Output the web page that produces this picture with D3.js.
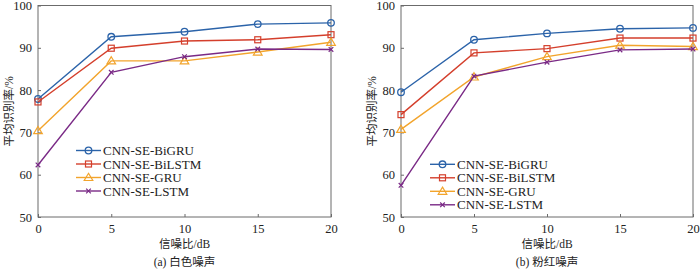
<!DOCTYPE html>
<html>
<head>
<meta charset="utf-8">
<script src="https://cdn.jsdelivr.net/npm/d3@7"></script>
<style>
  body { margin: 0; background: #fff; }
  svg { display: block; }
</style>
</head>
<body>
<div id="chart"></div>
<script>
// SNR levels (dB)
const snr = [0, 5, 10, 15, 20];
const seriesNames = ['CNN-SE-BiGRU', 'CNN-SE-BiLSTM', 'CNN-SE-GRU', 'CNN-SE-LSTM'];

// (a) white noise
const whiteBiGRU  = [77.9, 92.6, 93.8, 95.6, 95.9];
const whiteBiLSTM = [77.2, 89.9, 91.6, 91.9, 93.1];
const whiteGRU    = [70.4, 86.9, 86.9, 89.0, 91.3];
const whiteLSTM   = [62.3, 84.2, 87.9, 89.7, 89.6];

// (b) pink noise
const pinkBiGRU  = [79.5, 91.9, 93.4, 94.5, 94.7];
const pinkBiLSTM = [74.2, 88.8, 89.8, 92.3, 92.3];
const pinkGRU    = [70.7, 83.1, 87.9, 90.6, 90.3];
const pinkLSTM   = [57.5, 83.3, 86.6, 89.5, 89.7];

const xTicks = [0, 5, 10, 15, 20];
const yTicks = [50, 60, 70, 80, 90, 100];

const colors = ['#2b63a9', '#d43f2c', '#f2a42c', '#7a2a86'];
const shapes = ['circle', 'square', 'triangle', 'cross'];

const W = 700, H = 270;
const svg = d3.select('#chart').append('svg').attr('width', W).attr('height', H);

const serif = "'Times New Roman', 'Liberation Serif', 'DejaVu Serif', serif";
const cjk = "'Times New Roman', 'Liberation Serif', 'Noto Sans CJK SC', serif";
const axisColor = '#6b6b6b';

function marker(g, shape, color, cx, cy) {
    if (shape === 'circle') {
        g.append('circle').attr('cx', cx).attr('cy', cy).attr('r', 3.3)
            .attr('fill', 'none').attr('stroke', color).attr('stroke-width', 1.3);
    } else if (shape === 'square') {
        g.append('rect').attr('x', cx - 3).attr('y', cy - 3).attr('width', 6).attr('height', 6)
            .attr('fill', 'none').attr('stroke', color).attr('stroke-width', 1.2);
    } else if (shape === 'triangle') {
        g.append('path').attr('d', `M${cx},${cy - 4.2}L${cx + 4.3},${cy + 3}L${cx - 4.3},${cy + 3}Z`)
            .attr('fill', 'none').attr('stroke', color).attr('stroke-width', 1.2);
    } else {
        g.append('path').attr('d', `M${cx - 2.3},${cy - 2.3}L${cx + 2.3},${cy + 2.3}M${cx - 2.3},${cy + 2.3}L${cx + 2.3},${cy - 2.3}`)
            .attr('stroke', color).attr('stroke-width', 1.2);
    }
}

function panel(opts) {
    const { left, right, data, legendX, legendY, caption } = opts;
    const top = 5.5, bottom = 217;
    const x = d3.scaleLinear().domain([0, 20]).range([left, right]);
    const y = d3.scaleLinear().domain([50, 100]).range([bottom, top]);
    const g = svg.append('g');

    // box
    g.append('rect').attr('x', left).attr('y', top).attr('width', right - left).attr('height', bottom - top)
        .attr('fill', 'none').attr('stroke', axisColor).attr('stroke-width', 1);

    // ticks (inward)
    g.append('g').attr('transform', `translate(0,${bottom})`)
        .call(d3.axisBottom(x).tickValues(xTicks).tickSize(-3).tickPadding(7).tickFormat(d3.format('d')))
        .call(a => a.select('.domain').remove())
        .call(a => a.attr('font-family', null))
        .call(a => a.selectAll('line').attr('stroke', axisColor))
        .call(a => a.selectAll('text').attr('fill', '#222').style('font-family', serif).style('font-size', '12.5px'));
    g.append('g').attr('transform', `translate(${left},0)`)
        .call(d3.axisLeft(y).tickValues(yTicks).tickSize(-3).tickPadding(6))
        .call(a => a.select('.domain').remove())
        .call(a => a.attr('font-family', null))
        .call(a => a.selectAll('line').attr('stroke', axisColor))
        .call(a => a.selectAll('text').attr('fill', '#222').style('font-family', serif).style('font-size', '12.5px'));

    // lines
    const line = d3.line().x((d, i) => x(snr[i])).y(d => y(d));
    data.forEach((vals, k) => {
        g.append('path').datum(vals).attr('d', line)
            .attr('fill', 'none').attr('stroke', colors[k]).attr('stroke-width', 1.4);
        vals.forEach((v, i) => marker(g, shapes[k], colors[k], x(snr[i]), y(v)));
    });

    // legend
    seriesNames.forEach((name, k) => {
        const ly = legendY + k * 13.5;
        g.append('line').attr('x1', legendX).attr('x2', legendX + 25).attr('y1', ly).attr('y2', ly)
            .attr('stroke', colors[k]).attr('stroke-width', 1.4);
        marker(g, shapes[k], colors[k], legendX + 12.5, ly);
        g.append('text').attr('x', legendX + 27).attr('y', ly + 4.5).text(name)
            .attr('fill', '#222').style('font-family', serif).style('font-size', '13px');
    });

    // axis titles
    const cx = (left + right) / 2;
    g.append('text').attr('x', cx).attr('y', 248).attr('text-anchor', 'middle')
        .text('信噪比/dB').attr('fill', '#222').style('font-family', cjk).style('font-size', '11.5px');
    g.append('text').attr('x', cx).attr('y', 266).attr('text-anchor', 'middle')
        .text(caption).attr('fill', '#222').style('font-family', cjk).style('font-size', '11.5px');
    g.append('text').attr('transform', `translate(${left - 25},${(top + bottom) / 2}) rotate(-90)`)
        .attr('text-anchor', 'middle').text('平均识别率/%')
        .attr('fill', '#222').style('font-family', cjk).style('font-size', '11.5px');
}

panel({ left: 38, right: 331, data: [whiteBiGRU, whiteBiLSTM, whiteGRU, whiteLSTM],
        legendX: 76, legendY: 150.5, caption: '(a) 白色噪声' });
panel({ left: 401, right: 693, data: [pinkBiGRU, pinkBiLSTM, pinkGRU, pinkLSTM],
        legendX: 430, legendY: 164.3, caption: '(b) 粉红噪声' });
</script>
</body>
</html>
